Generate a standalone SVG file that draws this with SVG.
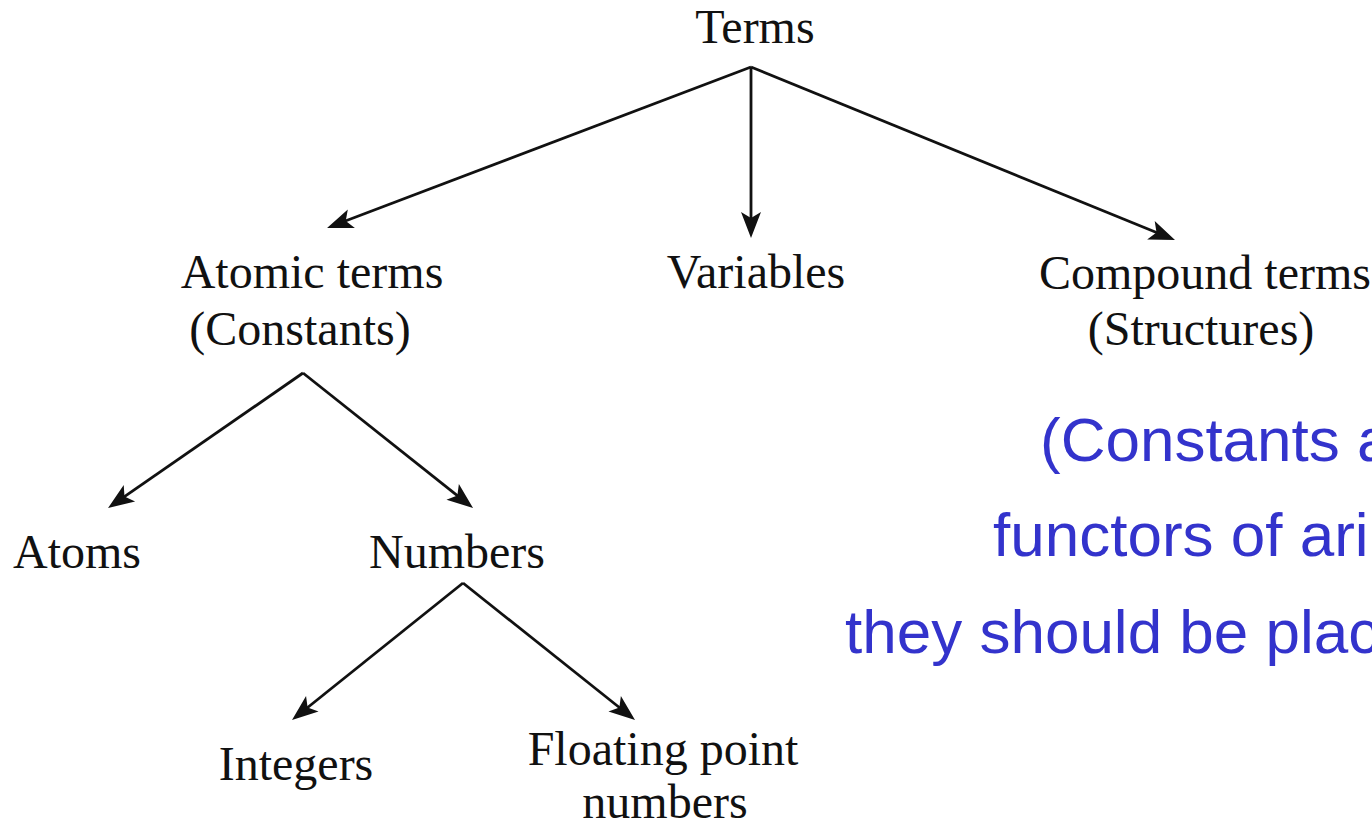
<svg xmlns="http://www.w3.org/2000/svg" width="1372" height="826" viewBox="0 0 1372 826">
<style>
.lbl{font-family:"Liberation Serif","Times New Roman",serif;font-size:48px;fill:#111;text-anchor:middle}
.note{font-family:"Liberation Sans",Arial,sans-serif;font-size:62px;fill:#3333cc}
.edge{stroke:#111;stroke-width:2.8;fill:none;marker-end:url(#ah)}
</style>
<defs>
<marker id="ah" markerUnits="userSpaceOnUse" viewBox="-12 -12 30 24" refX="0" refY="0" markerWidth="30" markerHeight="24" orient="auto" overflow="visible">
<path d="M16,0 L-10,-10 L-4,0 L-10,10 Z" fill="#111"/>
</marker>
</defs>
<rect width="1372" height="826" fill="#fff"/>
<g id="connectors">
<line class="edge" x1="751" y1="67" x2="342" y2="222.3"/>
<line class="edge" x1="751" y1="67" x2="751" y2="222"/>
<line class="edge" x1="751" y1="67" x2="1160.2" y2="234"/>
<line class="edge" x1="303" y1="373" x2="121.2" y2="498.9"/>
<line class="edge" x1="303" y1="373" x2="460.5" y2="498.1"/>
<line class="edge" x1="463" y1="583" x2="304.5" y2="710"/>
<line class="edge" x1="463" y1="583" x2="622.5" y2="710"/>
</g>
<g id="terms"><text class="lbl" x="755" y="43">Terms</text></g>
<g id="atomic"><text class="lbl" x="312" y="288">Atomic terms</text><text class="lbl" x="300" y="345">(Constants)</text></g>
<g id="variables"><text class="lbl" x="756" y="288">Variables</text></g>
<g id="compound"><text class="lbl" x="1205" y="289">Compound terms</text><text class="lbl" x="1201" y="345">(Structures)</text></g>
<g id="atoms"><text class="lbl" x="77" y="568">Atoms</text></g>
<g id="numbers"><text class="lbl" x="457" y="568">Numbers</text></g>
<g id="integers"><text class="lbl" x="296" y="780">Integers</text></g>
<g id="floating"><text class="lbl" x="663" y="765">Floating point</text><text class="lbl" x="665" y="818">numbers</text></g>
<g id="note">
<text class="note" x="1040" y="461">(Constants a</text>
<text class="note" x="993" y="556">functors of ari</text>
<text class="note" x="845" y="653">they should be plac</text>
</g>
</svg>
